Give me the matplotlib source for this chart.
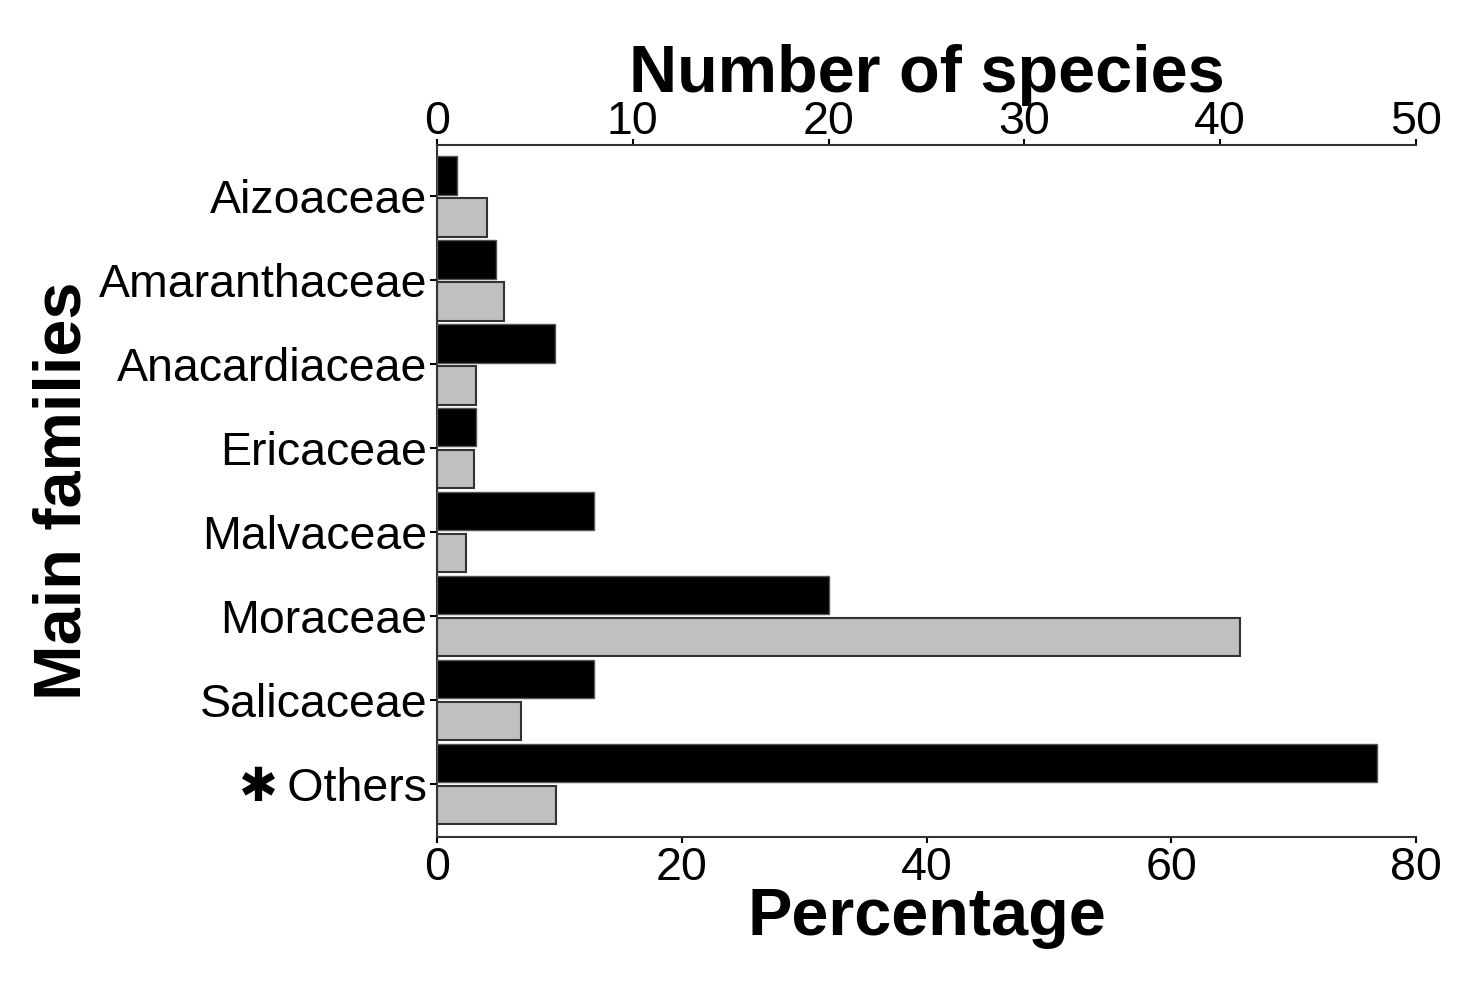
import numpy as np
import matplotlib
matplotlib.use('Agg')
import matplotlib.pyplot as plt

# data
families = ['Aizoaceae', 'Amaranthaceae', 'Anacardiaceae', 'Ericaceae',
            'Malvaceae', 'Moraceae', 'Salicaceae', '\u2731\u2009Others']
n_species = [1, 3, 6, 2, 8, 20, 8, 48]            # black bars, top axis
percentage = [4.1, 5.5, 3.15, 3.05, 2.4, 65.6, 6.85, 9.75]  # grey bars, bottom axis

pct_ticks = [0, 20, 40, 60, 80]
sp_ticks = [0, 10, 20, 30, 40, 50]

plt.rcParams['font.family'] = ['Liberation Sans', 'DejaVu Sans']

fig = plt.figure(figsize=(14.82, 9.82), dpi=100)
ax = fig.add_axes([0.2949, 0.1477, 0.6606, 0.7046])
ax2 = ax.twiny()

y = np.arange(len(families))
h = 0.46
off = 0.25

# grey = percentage (bottom axis)
ax.barh(y + off, percentage, height=h, color='#c0c0c0', edgecolor='#333333', linewidth=1.5, zorder=2)
# black = number of species (top axis)
ax2.barh(y - off, n_species, height=h, color='black', edgecolor='#555555', linewidth=1.0, zorder=2)

ax.set_xlim(0, 80)
ax2.set_xlim(0, 50)
ax.set_ylim(7.63, -0.61)
ax2.set_ylim(7.63, -0.61)

ax.set_xticks(pct_ticks)
ax2.set_xticks(sp_ticks)
ax.set_yticks(y)
ax.set_yticklabels(families)

for a in (ax, ax2):
    a.spines['right'].set_visible(False)
    for s in a.spines.values():
        s.set_linewidth(1.5)
        s.set_color('#333333')
ax.spines['top'].set_visible(False)
ax2.spines['bottom'].set_visible(False)
ax2.spines['left'].set_visible(False)

ax.tick_params(axis='x', labelsize=33.5, length=4, width=1.5, pad=2.5, colors='black')
ax.tick_params(axis='y', labelsize=33.5, length=5, width=1.5, pad=2, colors='black')
ax2.tick_params(axis='x', labelsize=33.5, length=4, width=1.5, pad=-3, colors='black')

ax.set_xlabel('Percentage', fontsize=48, fontweight='bold', labelpad=-2)
ax2.set_xlabel('Number of species', fontsize=48, fontweight='bold', labelpad=5.5)
ax.set_ylabel('Main families', fontsize=48, fontweight='bold', labelpad=3)

fig.savefig('out.png', dpi=100)
